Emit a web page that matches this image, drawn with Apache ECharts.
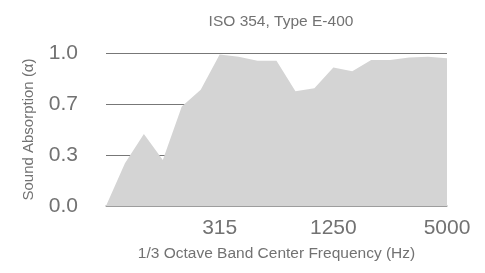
<!DOCTYPE html>
<html>
<head>
<meta charset="utf-8">
<script src="https://cdn.jsdelivr.net/npm/echarts@6/dist/echarts.min.js"></script>
<style>
  html, body { margin:0; padding:0; background:#fff; }
  #chart { width:485px; height:273px; }
</style>
</head>
<body>
<div id="chart"></div>
<script type="text/javascript">
// 1/3 octave bands, 80 Hz .. 5000 Hz
var bands = ['80','100','125','160','200','250','315','400','500','630','800','1000','1250','1600','2000','2500','3150','4000','5000'];
var alpha = [0, 0.28, 0.47, 0.30, 0.65, 0.76, 0.99, 0.975, 0.95, 0.95, 0.75, 0.77, 0.905, 0.88, 0.955, 0.955, 0.97, 0.975, 0.965];
var yTicks = [0, 1/3, 2/3, 1];

var myChart = echarts.init(document.getElementById('chart'));
var font = '"Liberation Sans", Arial, sans-serif';
var txt = '#727272';

var option = {
  animation: false,
  title: {
    text: 'ISO 354, Type E-400',
    left: 276,
    textAlign: 'center',
    top: 9,
    textStyle: { fontFamily: font, fontSize: 15.5, fontWeight: 'normal', color: txt }
  },
  grid: { left: 106, right: 38, top: 53, bottom: 67 },
  xAxis: {
    type: 'category',
    data: bands,
    boundaryGap: false,
    name: '1/3 Octave Band Center Frequency (Hz)',
    nameLocation: 'middle',
    nameGap: 40,
    nameTextStyle: { fontFamily: font, fontSize: 15.5, color: txt },
    axisLine: { lineStyle: { color: '#aaa', width: 1.5 } },
    axisTick: { show: false },
    splitLine: { show: false },
    axisLabel: {
      interval: function (idx) { return idx > 0 && idx % 6 === 0; },
      margin: 12,
      fontFamily: font, fontSize: 21, color: txt
    }
  },
  yAxis: {
    type: 'value',
    min: yTicks[0],
    max: yTicks[yTicks.length - 1],
    interval: yTicks[1],
    name: 'Sound Absorption (α)',
    nameLocation: 'middle',
    nameGap: 70,
    nameTextStyle: { fontFamily: font, fontSize: 15, color: txt },
    axisLine: { show: false },
    axisTick: { show: false },
    splitLine: { lineStyle: { color: '#777', width: 1 } },
    axisLabel: {
      margin: 28,
      formatter: function (v) { return v.toFixed(1); },
      fontFamily: font, fontSize: 21, color: txt
    }
  },
  series: [{
    type: 'line',
    data: alpha,
    symbol: 'none',
    lineStyle: { width: 0 },
    areaStyle: { color: '#d4d4d4', opacity: 1 }
  }]
};
myChart.setOption(option);
</script>
</body>
</html>
